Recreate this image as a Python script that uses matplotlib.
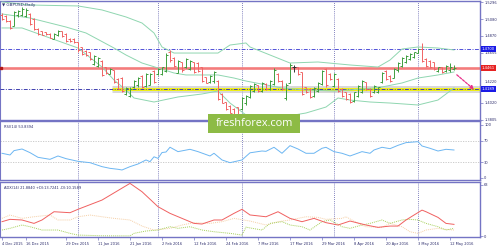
import matplotlib
matplotlib.use("Agg")
import matplotlib.pyplot as plt
import matplotlib.transforms as mtransforms
from matplotlib.patches import Rectangle

# GBPUSD daily bars, 4 Dec 2015 .. 13 May 2016
opens = [1.5140, 1.5125, 1.5065, 1.5000, 1.5130, 1.5140, 1.5120, 1.5150, 1.5085, 1.4960,
         1.4930, 1.4915, 1.4895, 1.4835, 1.4880, 1.4930, 1.4895, 1.4835, 1.4830, 1.4790,
         1.4725, 1.4680, 1.4660, 1.4515, 1.4490, 1.4555, 1.4470, 1.4390, 1.4430, 1.4320,
         1.4340, 1.4130, 1.4110, 1.4215, 1.4240, 1.4360, 1.4235, 1.4250, 1.4425, 1.4385,
         1.4390, 1.4425, 1.4670, 1.4595, 1.4400, 1.4535, 1.4470, 1.4450, 1.4535, 1.4530,
         1.4470, 1.4345, 1.4280, 1.4290, 1.4300, 1.4130, 1.4025, 1.3980, 1.3940, 1.3960,
         1.3940, 1.4010, 1.4090, 1.4170, 1.4240, 1.4175, 1.4260, 1.4190, 1.4260, 1.4385,
         1.4300, 1.4080, 1.4270, 1.4480, 1.4470, 1.4405, 1.4215, 1.4195, 1.4110, 1.4175,
         1.4260, 1.4445, 1.4385, 1.4235, 1.4320, 1.4195, 1.4150, 1.4130, 1.4045, 1.4110,
         1.4150, 1.4280, 1.4195, 1.4150, 1.4150, 1.4280, 1.4425, 1.4360, 1.4340, 1.4430,
         1.4490, 1.4535, 1.4575, 1.4600, 1.4655, 1.4700, 1.4575, 1.4555, 1.4535, 1.4420,
         1.4470, 1.4420, 1.4430, 1.4455]
highs = [1.5157, 1.5136, 1.5072, 1.5191, 1.5200, 1.5234, 1.5221, 1.5157, 1.5094, 1.4966,
         1.4937, 1.4924, 1.4903, 1.4903, 1.4945, 1.4937, 1.4903, 1.4839, 1.4839, 1.4797,
         1.4733, 1.4691, 1.4670, 1.4627, 1.4606, 1.4563, 1.4479, 1.4457, 1.4436, 1.4330,
         1.4351, 1.4224, 1.4215, 1.4309, 1.4351, 1.4373, 1.4394, 1.4394, 1.4436, 1.4457,
         1.4479, 1.4648, 1.4691, 1.4606, 1.4563, 1.4542, 1.4585, 1.4563, 1.4542, 1.4542,
         1.4479, 1.4351, 1.4373, 1.4428, 1.4309, 1.4139, 1.4033, 1.3991, 1.3948, 1.3970,
         1.4097, 1.4118, 1.4245, 1.4267, 1.4245, 1.4288, 1.4267, 1.4309, 1.4457, 1.4394,
         1.4309, 1.4267, 1.4521, 1.4500, 1.4479, 1.4415, 1.4224, 1.4203, 1.4224, 1.4288,
         1.4436, 1.4457, 1.4394, 1.4394, 1.4330, 1.4203, 1.4160, 1.4139, 1.4160, 1.4245,
         1.4309, 1.4288, 1.4203, 1.4245, 1.4224, 1.4415, 1.4436, 1.4373, 1.4457, 1.4542,
         1.4606, 1.4627, 1.4648, 1.4670, 1.4712, 1.4776, 1.4585, 1.4563, 1.4542, 1.4479,
         1.4479, 1.4500, 1.4521, 1.4500]
lows = [1.5072, 1.5051, 1.4954, 1.4996, 1.5115, 1.5123, 1.5106, 1.5009, 1.4945, 1.4882,
        1.4877, 1.4882, 1.4839, 1.4826, 1.4869, 1.4860, 1.4797, 1.4797, 1.4784, 1.4670,
        1.4627, 1.4614, 1.4563, 1.4500, 1.4479, 1.4360, 1.4385, 1.4385, 1.4267, 1.4190,
        1.4160, 1.4118, 1.4088, 1.4203, 1.4224, 1.4203, 1.4224, 1.4245, 1.4267, 1.4373,
        1.4373, 1.4415, 1.4542, 1.4479, 1.4394, 1.4415, 1.4457, 1.4436, 1.4394, 1.4415,
        1.4288, 1.4267, 1.4267, 1.4267, 1.4054, 1.4012, 1.3927, 1.3885, 1.3864, 1.3842,
        1.3927, 1.3991, 1.4076, 1.4160, 1.4160, 1.4160, 1.4182, 1.4182, 1.4245, 1.4288,
        1.4182, 1.4054, 1.4267, 1.4415, 1.4373, 1.4118, 1.4139, 1.4076, 1.4097, 1.4160,
        1.4245, 1.4224, 1.4309, 1.4224, 1.4160, 1.4097, 1.4054, 1.4012, 1.4033, 1.4097,
        1.4139, 1.4182, 1.4097, 1.4139, 1.4139, 1.4267, 1.4309, 1.4288, 1.4330, 1.4415,
        1.4479, 1.4521, 1.4563, 1.4585, 1.4648, 1.4542, 1.4479, 1.4457, 1.4436, 1.4415,
        1.4394, 1.4415, 1.4415, 1.4436]
closes = [1.5085, 1.5060, 1.4975, 1.5170, 1.5185, 1.5215, 1.5200, 1.5020, 1.4955, 1.4895,
          1.4885, 1.4890, 1.4845, 1.4895, 1.4935, 1.4870, 1.4810, 1.4805, 1.4795, 1.4685,
          1.4640, 1.4625, 1.4575, 1.4610, 1.4590, 1.4375, 1.4395, 1.4450, 1.4280, 1.4200,
          1.4175, 1.4210, 1.4200, 1.4295, 1.4335, 1.4220, 1.4380, 1.4385, 1.4280, 1.4445,
          1.4470, 1.4630, 1.4560, 1.4490, 1.4550, 1.4430, 1.4575, 1.4550, 1.4410, 1.4425,
          1.4300, 1.4275, 1.4360, 1.4410, 1.4070, 1.4020, 1.3940, 1.3895, 1.3875, 1.3855,
          1.4080, 1.4105, 1.4230, 1.4255, 1.4170, 1.4275, 1.4190, 1.4295, 1.4440, 1.4300,
          1.4195, 1.4250, 1.4500, 1.4480, 1.4385, 1.4135, 1.4150, 1.4090, 1.4210, 1.4275,
          1.4420, 1.4240, 1.4320, 1.4380, 1.4175, 1.4110, 1.4065, 1.4025, 1.4150, 1.4230,
          1.4295, 1.4195, 1.4110, 1.4235, 1.4215, 1.4400, 1.4320, 1.4300, 1.4445, 1.4530,
          1.4595, 1.4615, 1.4640, 1.4660, 1.4700, 1.4555, 1.4490, 1.4470, 1.4450, 1.4470,
          1.4405, 1.4490, 1.4470, 1.4461]

# Bollinger bands (20), read at a few bars
bb_idx_up = [0, 7, 19, 25, 31, 35, 38, 40, 43, 54, 57, 61, 62, 72, 79, 87, 94, 97, 100, 104, 109, 113]
bb_upper = [1.5302, 1.5263, 1.5251, 1.5200, 1.5111, 1.5034, 1.4907, 1.4729, 1.4652, 1.4652, 1.4754,
            1.4780, 1.4729, 1.4525, 1.4538, 1.4500, 1.4474, 1.4563, 1.4703, 1.4729, 1.4716, 1.4691]
bb_idx_mid = [0, 7, 16, 21, 28, 31, 35, 39, 43, 46, 54, 58, 61, 70, 76, 83, 90, 95, 100, 104, 109, 113]
bb_middle = [1.5149, 1.5098, 1.4983, 1.4907, 1.4716, 1.4627, 1.4525, 1.4462, 1.4398, 1.4373, 1.4373,
             1.4334, 1.4296, 1.4207, 1.4182, 1.4169, 1.4194, 1.4220, 1.4271, 1.4334, 1.4373, 1.4411]
bb_idx_low = [0, 5, 12, 19, 25, 28, 31, 33, 38, 44, 50, 54, 57, 61, 62, 70, 76, 81, 84, 87, 92, 97,
              104, 109, 113]
bb_lower = [1.4971, 1.4971, 1.4843, 1.4716, 1.4474, 1.4309, 1.4182, 1.4080, 1.4029, 1.4093, 1.4131,
            1.4169, 1.4016, 1.3864, 1.3825, 1.3838, 1.3889, 1.3965, 1.4080, 1.4054, 1.4029, 1.4016,
            1.3991, 1.4054, 1.4207]

# RSI(14)
rsi_idx = [0, 2, 3, 5, 7, 9, 12, 14, 16, 19, 22, 25, 27, 29, 30, 32, 34, 36, 37, 38, 39, 40, 41, 42,
           44, 47, 49, 52, 53, 55, 57, 60, 62, 65, 66, 68, 70, 72, 74, 76, 78, 80, 81, 83, 85, 87,
           90, 92, 93, 95, 97, 99, 101, 104, 105, 107, 109, 111, 113]
rsi_val = [46.6, 43.4, 51.6, 54.7, 47.8, 39.0, 35.2, 41.5, 36.5, 31.4, 28.9, 21.4, 18.2, 16.4, 15.1,
           21.4, 26.4, 34.0, 30.8, 40.0, 37.0, 48.0, 49.0, 58.0, 49.7, 54.1, 49.7, 41.5, 46.6, 34.0,
           28.9, 34.0, 47.5, 50.9, 50.3, 57.9, 46.6, 61.0, 54.7, 46.6, 46.6, 56.0, 57.9, 49.7, 46.6,
           41.5, 49.7, 46.6, 52.8, 57.9, 55.3, 61.6, 66.7, 68.5, 60.4, 56.0, 50.9, 54.1, 52.8]

# ADX(14) with +DI / -DI
adx_idx = [0, 2, 5, 8, 10, 13, 17, 19, 25, 32, 35, 39, 42, 45, 48, 50, 53, 55, 58, 60, 62, 66, 69,
           72, 75, 78, 81, 84, 87, 91, 94, 97, 99, 101, 105, 106, 109, 111, 113]
adx_val = [17.7, 20.6, 19.8, 15.6, 19.8, 30.0, 28.8, 33.0, 44.4, 65.0, 54.7, 36.2, 28.0, 21.8, 15.6,
           14.8, 19.8, 19.8, 28.0, 33.0, 26.0, 23.8, 30.0, 21.8, 17.7, 21.8, 16.5, 13.6, 18.5, 13.6,
           10.7, 12.3, 12.3, 19.8, 32.0, 30.0, 23.0, 15.6, 14.4]
pdi_idx = [0, 2, 5, 7, 10, 14, 17, 19, 25, 28, 32, 33, 36, 39, 42, 44, 47, 50, 53, 57, 60, 61, 62,
           65, 67, 70, 72, 75, 77, 80, 82, 85, 87, 90, 92, 95, 97, 100, 102, 104, 106, 109, 111, 113]
pdi_val = [7.4, 9.5, 13.6, 11.5, 7.4, 7.4, 3.3, 1.2, 0.3, 0.2, 0.2, 3.3, 6.2, 7.4, 11.5, 9.5, 11.5,
           7.4, 5.3, 3.3, 1.2, 11.0, 10.0, 7.4, 15.6, 17.7, 13.6, 11.5, 7.4, 17.7, 19.8, 11.5, 9.5,
           13.6, 15.6, 19.8, 15.6, 19.8, 20.6, 19.8, 15.6, 11.5, 7.4, 9.5]
mdi_idx = [0, 2, 5, 8, 12, 14, 17, 19, 22, 25, 28, 32, 35, 38, 42, 45, 48, 52, 55, 58, 62, 66, 69,
           72, 76, 79, 81, 85, 86, 89, 91, 95, 97, 100, 102, 104, 106, 109, 111, 113]
mdi_val = [21.8, 25.9, 21.8, 23.8, 25.9, 19.8, 19.8, 23.8, 25.9, 23.8, 21.8, 19.8, 12.3, 7.4, 9.5,
           13.6, 16.5, 15.6, 17.7, 21.8, 18.5, 13.6, 17.7, 19.8, 23.8, 23.0, 20.6, 21.8, 23.8, 15.6,
           11.5, 10.7, 15.6, 11.5, 5.3, 3.3, 7.4, 9.5, 8.2, 7.4]

# levels drawn on the chart
resistance = 1.4700
pivot = 1.4461
support = 1.4189
support_from = 27.5
arrow_from = 1.4375

date_idx = [0, 6, 16, 24, 32, 40, 48, 56, 64, 72, 80, 88, 96, 104, 112]
date_labels = ["4 Dec 2015", "16 Dec 2015", "29 Dec 2015", "11 Jan 2016", "21 Jan 2016",
               "2 Feb 2016", "12 Feb 2016", "24 Feb 2016", "7 Mar 2016", "17 Mar 2016",
               "29 Mar 2016", "8 Apr 2016", "20 Apr 2016", "3 May 2016", "12 May 2016"]
month_idx = [19, 39, 60, 83, 104]
# the 1.4440 scale label sits under the pivot box on the original, so it is left out
price_ticks = [1.5296, 1.5080, 1.4870, 1.4655, 1.4220, 1.4020, 1.3805]

frame = "#7474c4"
txt = "#2c2c6c"
up_col = "#3e9e3e"
dn_col = "#f06464"
band_col = "#8fd6b0"

fig = plt.figure(figsize=(5, 2.5), dpi=100)
W, H = 500, 250


def panel(top, bottom):
    return fig.add_axes([0 / W, 1 - bottom / H, 480 / W, (bottom - top) / H])


ax = panel(1, 120)
ax_rsi = panel(121, 180)
ax_adx = panel(182, 237)

n = len(closes)
for a in (ax, ax_rsi, ax_adx):
    a.set_xlim(-0.5, 119.5)
    for s in a.spines.values():
        s.set_color(frame)
        s.set_linewidth(1.0)
    a.spines["left"].set_linewidth(0.8)
    for m in month_idx:
        a.axvline(m, color="#5a5aaa", lw=0.6, ls=(0, (1, 1.5)), zorder=1)
    a.yaxis.tick_right()
    a.tick_params(axis="y", length=2, width=0.5, color=frame, pad=1, labelsize=2.6, labelcolor=txt)
    a.tick_params(axis="x", length=0)
    a.set_xticks([])

# --- price panel ---
ax.set_ylim(1.3800, 1.5314)
ax.set_yticks(price_ticks)
ax.set_yticklabels([f"{p:.4f}" for p in price_ticks])
# MT4 prints this one a little above its tick, clear of the support box
lift = mtransforms.ScaledTranslation(0, 5 / 100, fig.dpi_scale_trans)
for lab in ax.get_yticklabels():
    if lab.get_text() == "1.4220":
        lab.set_transform(lab.get_transform() + lift)

ax.axhline(resistance, color="#5050d8", lw=0.7, ls=(0, (4, 1.5, 1, 1.5)), zorder=2)
ax.plot([support_from, 119.5], [support, support], color="#b8b8b8", lw=5, alpha=0.55,
        solid_capstyle="butt", zorder=2)
ax.plot([support_from, 119.5], [support, support], color="#f2f200", lw=2.0,
        solid_capstyle="butt", zorder=2)
ax.axhline(support, color="#4040b0", lw=0.7, ls=(0, (4, 1.5, 1, 1.5)), zorder=3)
ax.axhline(pivot, color="#f47c7c", lw=1.9, zorder=2)
ax.plot([-0.3], [pivot], marker="s", ms=1.8, color="#b01818", zorder=4)

ax.plot(bb_idx_up, bb_upper, color=band_col, lw=0.7, zorder=3)
ax.plot(bb_idx_mid, bb_middle, color=band_col, lw=0.7, zorder=3)
ax.plot(bb_idx_low, bb_lower, color=band_col, lw=0.7, zorder=3)

xs = list(range(n))
cols = [up_col if c > o else (dn_col if c < o else "#303030") for o, c in zip(opens, closes)]
ax.vlines(xs, lows, highs, colors=cols, lw=0.7, zorder=4)
ax.hlines(opens, [x - 0.45 for x in xs], xs, colors=cols, lw=0.7, zorder=4)
ax.hlines(closes, xs, [x + 0.45 for x in xs], colors=cols, lw=0.7, zorder=4)

ax.annotate("", xy=(n + 4.0, support), xytext=(n - 0.3, arrow_from),
            arrowprops=dict(arrowstyle="-|>", color="#e8308a", lw=0.9, ls=(0, (2, 1)),
                            mutation_scale=5, shrinkA=0, shrinkB=0), zorder=6)

blend = mtransforms.blended_transform_factory(ax.transAxes, ax.transData)
for val, fc in ((resistance, "#1a1ae6"), (pivot, "#e62222"), (support, "#1a1ae6")):
    ax.text(1.004, val, f"{val:.4f}", transform=blend, color="white", fontsize=2.7,
            ha="left", va="center", clip_on=False, zorder=7,
            bbox=dict(boxstyle="square,pad=0.25", fc=fc, ec="none"))

ax.text(0.005, 0.985, "\u25bc GBPUSD,Daily", transform=ax.transAxes, fontsize=3.0,
        color=txt, ha="left", va="top")

# --- RSI panel ---
ax_rsi.set_ylim(-3.8, 107.5)
ax_rsi.set_yticks([100, 70, 30, 0])
ax_rsi.set_yticklabels(["100", "70", "30", "0"])
for lvl in (70, 30):
    ax_rsi.axhline(lvl, color="#c4c4c4", lw=0.6, ls=(0, (1.5, 1.5)), zorder=1)
ax_rsi.plot(rsi_idx, rsi_val, color="#6cb6f2", lw=0.7, zorder=3)
ax_rsi.text(0.008, 0.94, "RSI(14) 53.8394", transform=ax_rsi.transAxes, fontsize=2.6,
            color=txt, ha="left", va="top")

# --- ADX panel ---
ax_adx.set_ylim(-1.2, 66.7)
ax_adx.set_yticks([63, 0])
ax_adx.set_yticklabels(["63", "0"])
ax_adx.plot(mdi_idx, mdi_val, color="#f5cfa6", lw=0.7, ls=(0, (1, 1)), zorder=2)
ax_adx.plot(pdi_idx, pdi_val, color="#a6d05a", lw=0.7, ls=(0, (1, 1)), zorder=2)
ax_adx.plot(adx_idx, adx_val, color="#f06060", lw=0.7, zorder=3)
ax_adx.text(0.008, 0.93, "ADX(14) 21.8840 +DI:13.7241 -DI:10.1589", transform=ax_adx.transAxes,
            fontsize=2.6, color=txt, ha="left", va="top")
ax_adx.set_xticks(date_idx)
ax_adx.set_xticklabels(date_labels, ha="left")
ax_adx.tick_params(axis="x", length=2, width=0.5, color=frame, pad=1.5, labelsize=2.6,
                   labelcolor=txt)

# watermark
fig.patches.append(Rectangle((208 / W, 1 - 133 / H), 92 / W, 19 / H, transform=fig.transFigure,
                             fc="#8dbb45", ec="none", zorder=10))
fig.text(254 / W, 1 - 123.5 / H, "freshforex.com", color="white", fontsize=7.8,
         family="Open Sans", ha="center", va="center", zorder=11)

fig.savefig("out.png", dpi=100)
